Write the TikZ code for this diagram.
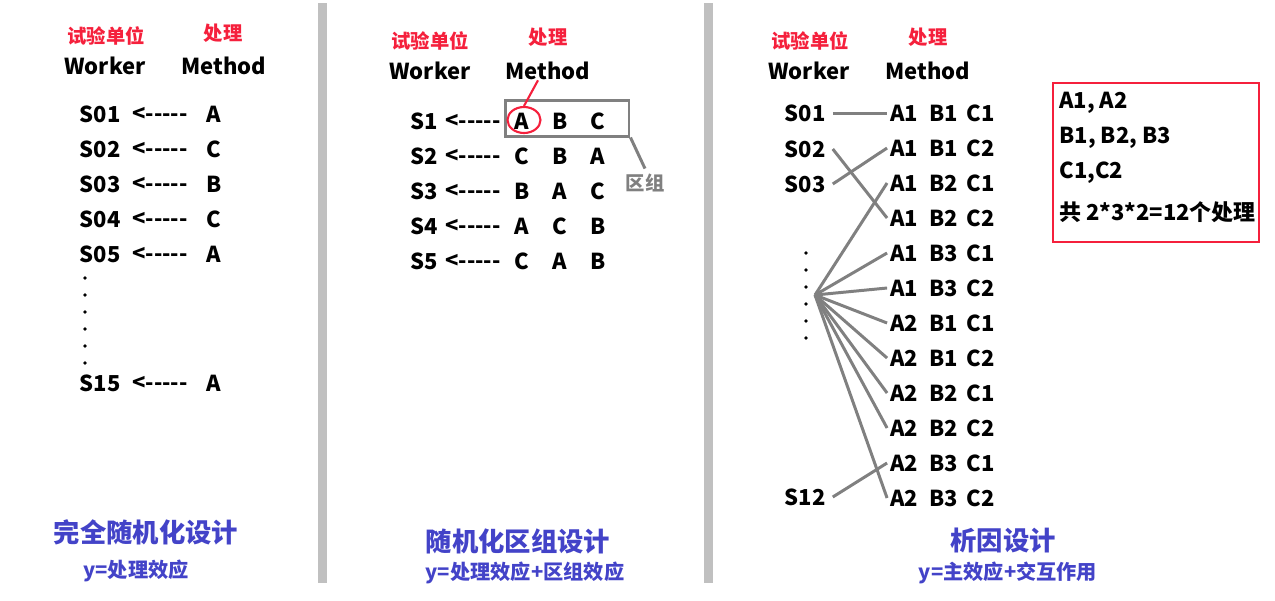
\documentclass[tikz,border=0pt]{standalone}
\usepackage{fontspec}
\setmainfont{Noto Sans CJK SC}
\usetikzlibrary{shapes.geometric}

\definecolor{labelred}{HTML}{F5203C}
\definecolor{titleblue}{HTML}{4343C8}
\definecolor{linegray}{HTML}{808080}
\definecolor{bargray}{HTML}{C0C0C0}

\newcommand\larr{<\kern0pt-\kern0pt-\kern0pt-\kern0pt-\kern0pt-}

\tikzset{
  txt/.style={font=\bfseries\fontsize{12.5}{14}\selectfont, inner sep=0pt},
  hdr/.style={font=\bfseries\fontsize{11}{13}\selectfont, text=labelred, inner sep=0pt},
  ttl/.style={font=\bfseries\fontsize{15}{17}\selectfont, text=titleblue, inner sep=0pt},
  sub/.style={font=\bfseries\fontsize{11.5}{13}\selectfont, text=titleblue, inner sep=0pt},
  link/.style={draw=linegray, line width=1.7pt},
  dot/.style={fill=black}
}

\begin{document}
\begin{tikzpicture}[x=0.02cm, y=-0.02cm]
\useasboundingbox (0,0) rectangle (1275,600);

% separators
\fill[bargray] (318,3) rectangle (327,583);
\fill[bargray] (704,3) rectangle (713,583);

% completely randomized
\node[hdr] (u1) at (106,36) {试验单位};
\node[hdr] (p1) at (223,33) {处理};
\node[txt] (w1) at (105,66) {Worker};
\node[txt] (m1) at (224,66) {Method};
\foreach \s/\m/\y in {S01/A/114, S02/C/149, S03/B/184, S04/C/219, S05/A/254, S15/A/383} {
  \node[txt] (c\s) at (100,\y) {\s};
  \node[txt] at (160,\y) {\larr};
  \node[txt] at (214,\y) {\m};
}
\foreach \y in {278,295,312,329,346,363}
  \fill[dot] (85,\y) circle (1.9);
\node[ttl] (t1) at (146,532) {完全随机化设计};
\node[sub] (y1) at (136,571) {y=处理效应};

% randomized block
\node[hdr] (u2) at (430,41) {试验单位};
\node[hdr] (p2) at (548,37) {处理};
\node[txt] (w2) at (430,71) {Worker};
\node[txt] (m2) at (548,71) {Method};
\foreach \s/\a/\b/\c/\y in {S1/A/B/C/121, S2/C/B/A/156, S3/B/A/C/191, S4/A/C/B/226, S5/C/A/B/261} {
  \node[txt] (b\s) at (424,\y) {\s};
  \node[txt] at (473,\y) {\larr};
  \node[txt] (b\s a) at (522,\y) {\a};
  \node[txt] at (560,\y) {\b};
  \node[txt] at (598,\y) {\c};
}
\node[draw=linegray, line width=1.7pt, minimum width=2.48cm, minimum height=0.72cm] (blk) at (567,118) {};
\node[draw=labelred, line width=1.2pt, ellipse, minimum width=0.66cm, minimum height=0.52cm] (ring) at (524,120) {};
\draw[labelred, line width=1.2pt] (ring.north) -- ([xshift=-0.2cm]m2.south);
\node[txt, font=\bfseries\fontsize{11}{13}\selectfont, text=linegray] (qz) at (645,183) {区组};
\draw[link] (blk.south east) -- ([yshift=0.1cm]qz.north);
\node[ttl] (t2) at (518,541) {随机化区组设计};
\node[sub] (y2) at (525,573) {y=处理效应+区组效应};

% factorial
\node[hdr] (u3) at (810,41) {试验单位};
\node[hdr] (p3) at (928,37) {处理};
\node[txt] (w3) at (809,71) {Worker};
\node[txt] (m3) at (928,71) {Method};
\foreach \a/\b/\c [count=\i] in {A1/B1/C1, A1/B1/C2, A1/B2/C1, A1/B2/C2, A1/B3/C1, A1/B3/C2,
                                 A2/B1/C1, A2/B1/C2, A2/B2/C1, A2/B2/C2, A2/B3/C1, A2/B3/C2} {
  \node[txt, inner xsep=1.5pt] (f\i) at (904,78+35*\i) {\a};
  \node[txt] at (944,78+35*\i) {\b};
  \node[txt] at (981,78+35*\i) {\c};
}
\node[txt, inner xsep=4pt] (s01) at (805,113) {S01};
\node[txt, inner xsep=4pt] (s02) at (805,149) {S02};
\node[txt, inner xsep=4pt] (s03) at (805,184) {S03};
\node[txt, inner xsep=4pt] (s12) at (805,497) {S12};
\foreach \y in {253,270,287,304,321,338}
  \fill[dot] (806,\y) circle (1.9);
\coordinate (fan) at (815,295);
\draw[link] (s01.east) -- (f1.west);
\draw[link] (s02.east) -- (f4.west);
\draw[link] (s03.east) -- (f2.west);
\draw[link] (s12.east) -- (f11.west);
\foreach \i in {3,5,6,7,8,9,10,12}
  \draw[link] (fan) -- (f\i.west);

\draw[labelred, line width=0.85pt] (1053,83) rectangle (1259,242);
\node[txt, anchor=west] (k1) at (1059,103) {A1, A2};
\node[txt, anchor=west] (k2) at (1059,138) {B1, B2, B3};
\node[txt, anchor=west] (k3) at (1059,173) {C1,C2};
\node[txt, anchor=west] (k4) at (1059,212) {共 2*3*2=12个处理};
\node[ttl] (t3) at (1003,541) {析因设计};
\node[sub] (y3) at (1008,573) {y=主效应+交互作用};
\end{tikzpicture}
\end{document}
